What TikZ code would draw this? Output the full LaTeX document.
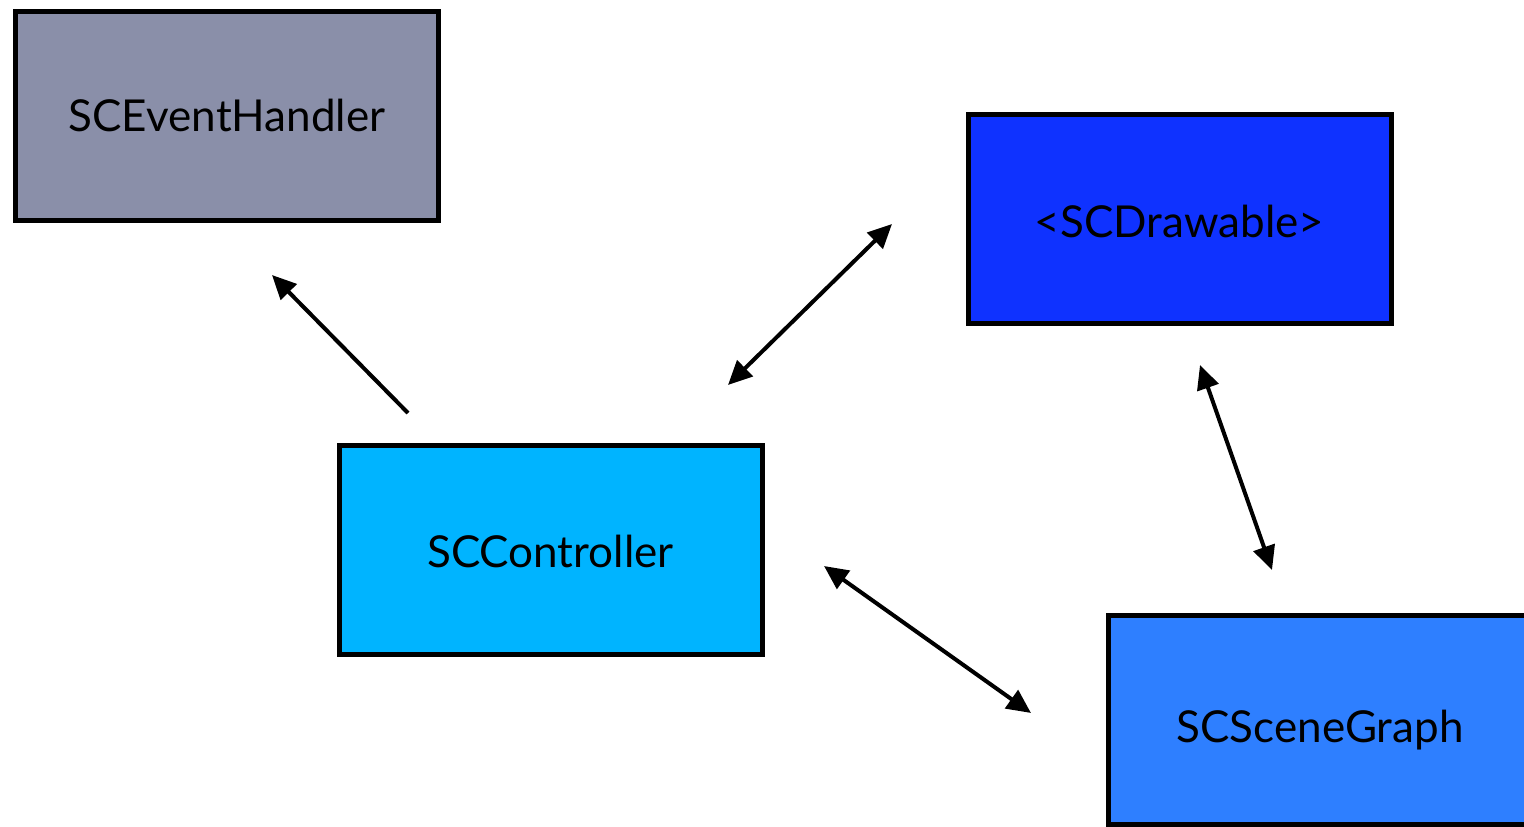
\documentclass[tikz,border=0pt]{standalone}
\usepackage{fontspec}
\setmainfont{Lato}
\usetikzlibrary{arrows.meta}
\definecolor{cGray}{HTML}{8A8FA9}
\definecolor{cDraw}{HTML}{0F32FF}
\definecolor{cCtrl}{HTML}{00B4FF}
\definecolor{cScene}{HTML}{2E7FFF}
\tikzset{
  box/.style={draw=black, line width=5pt, minimum width=423pt, minimum height=209pt, inner sep=0pt, text depth=0pt, text height=31pt, font=\fontsize{44}{46}\selectfont},
  conn/.style={line width=4pt, -{Triangle[length=24pt,width=22pt]}},
  bconn/.style={line width=4pt, {Triangle[length=24pt,width=22pt]}-{Triangle[length=24pt,width=22pt]}}
}
\begin{document}
\begin{tikzpicture}[x=1pt,y=-1pt]
\useasboundingbox (0,0) rectangle (1524,827);
\node[box, fill=cGray] (eh) at (227,115.5) {SCEventHandler};
\node[box, fill=cDraw, text height=37pt] (dr) at (1179.5,219) {<SCDrawable>};
\node[box, fill=cCtrl, text height=35pt] (ct) at (550.5,550) {SCController};
\node[box, fill=cScene, text height=45pt] (sg) at (1320,719.5) {SCSceneGraph};
\coordinate (a1s) at (408,413);
\coordinate (a1e) at (272,275);
\coordinate (a2s) at (728,385);
\coordinate (a2e) at (892,224);
\coordinate (a3s) at (1200,365);
\coordinate (a3e) at (1272,570);
\coordinate (a4s) at (824,566);
\coordinate (a4e) at (1031,713);
\draw[conn] (a1s) -- (a1e);
\draw[bconn] (a2s) -- (a2e);
\draw[bconn] (a3s) -- (a3e);
\draw[bconn] (a4s) -- (a4e);
\end{tikzpicture}
\end{document}
